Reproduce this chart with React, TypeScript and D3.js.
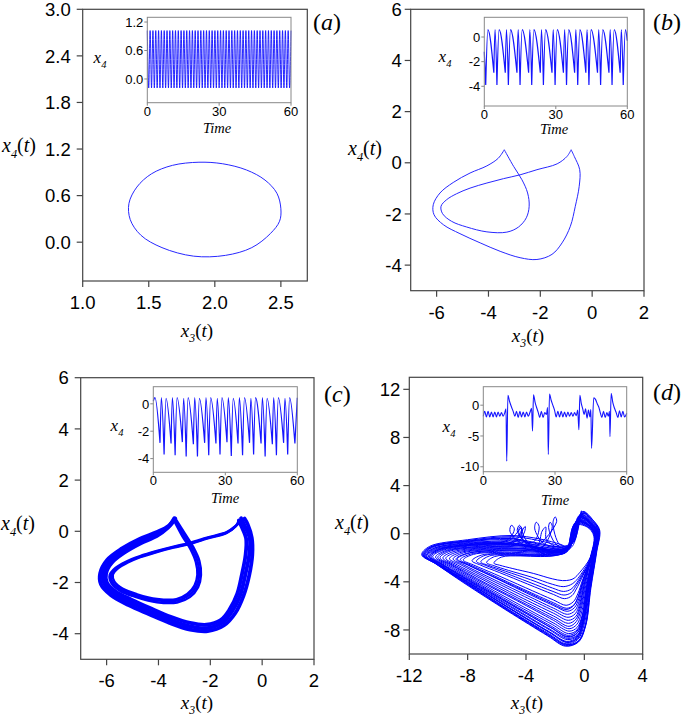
import * as d3 from "d3";

type Pt = [number, number];

// ---------- axes ----------
const aTicksX = [1.0, 1.5, 2.0, 2.5];
const aTicksY = [0.0, 0.6, 1.2, 1.8, 2.4, 3.0];
const bcTicksX = [-6, -4, -2, 0, 2];
const bcTicksY = [-4, -2, 0, 2, 4, 6];
const dTicksX = [-12, -8, -4, 0, 4];
const dTicksY = [-8, -4, 0, 4, 8, 12];
const timeTicks = [0, 30, 60];
const insetTicksA = [0.0, 0.6, 1.2];
const insetTicksBC = [-4, -2, 0];
const insetTicksD = [-10, -5, 0];

// ---------- (a) period-1 cycle ----------
const cycleA: Pt[] = [
  [2.5, 0.43], [2.47, 0.63], [2.38, 0.8], [2.24, 0.93], [2.06, 1.01], [1.88, 1.03],
  [1.68, 0.99], [1.52, 0.88], [1.41, 0.71], [1.35, 0.5], [1.36, 0.29], [1.44, 0.09],
  [1.6, -0.07], [1.84, -0.18], [2.08, -0.17], [2.28, -0.07], [2.42, 0.11], [2.49, 0.27],
];
// inset (a): successive maxima / minima of x4, half a period apart
const insetAValues = [
  1.02, -0.19, 1.02, -0.19, 1.02, -0.19, 1.02, -0.19, 1.02, -0.19, 1.02, -0.19, 1.02, -0.19, 1.02, -0.19,
  1.02, -0.19, 1.02, -0.19, 1.02, -0.19, 1.02, -0.19, 1.02, -0.19, 1.02, -0.19, 1.02, -0.19, 1.02, -0.19,
  1.02, -0.19, 1.02, -0.19, 1.02, -0.19, 1.02, -0.19, 1.02, -0.19, 1.02, -0.19, 1.02, -0.19, 1.02, -0.19,
  1.02, -0.19, 1.02, -0.19, 1.02, -0.19, 1.02, -0.19, 1.02, -0.19, 1.02, -0.19, 1.02, -0.19, 1.02, -0.19,
  1.02, -0.19, 1.02, -0.19, 1.02, -0.19, 1.02, -0.19, 1.02, -0.19, 1.02, -0.19, 1.02, -0.19, 1.02, -0.19,
  1.02, -0.19, 1.02, -0.19, 1.02, -0.19, 1.02, -0.19, 1.02, -0.19, 1.02, -0.19, 1.02, -0.19, 1.02, -0.19,
  1.02, -0.19, 1.02, -0.19, 1.02, -0.19, 1.02,
];

// ---------- (b) period-2 cycle, split at its two cusps ----------
const cycleBOuter: Pt[] = [
  [-3.39, 0.51], [-3.62, 0.18], [-4.06, -0.12], [-4.71, -0.4], [-5.36, -0.77], [-5.87, -1.18],
  [-6.13, -1.64], [-6.1, -2.03], [-5.74, -2.42], [-5.1, -2.77], [-4.32, -3.13], [-3.55, -3.46],
  [-2.78, -3.71], [-2.13, -3.78], [-1.55, -3.58], [-1.16, -3.13], [-0.84, -2.48], [-0.65, -1.7],
  [-0.5, -0.92], [-0.48, -0.27], [-0.69, 0.25], [-0.81, 0.51],
];
const cycleBInner: Pt[] = [
  [-0.81, 0.51], [-0.97, 0.25], [-1.35, -0.04], [-2.13, -0.27], [-2.78, -0.47], [-3.42, -0.62],
  [-4.06, -0.79], [-4.71, -0.99], [-5.23, -1.21], [-5.61, -1.44], [-5.83, -1.7], [-5.77, -1.99],
  [-5.42, -2.29], [-4.84, -2.51], [-4.06, -2.7], [-3.29, -2.71], [-2.84, -2.51], [-2.54, -2.15],
  [-2.43, -1.7], [-2.49, -1.18], [-2.71, -0.66], [-3.03, -0.14], [-3.39, 0.51],
];
// inset (b): cusp (minimum) times/values and the arch maxima between them
const insetBCuspT = [0, 0.6, 4.0, 5.3, 8.8, 10.1, 13.7, 15.0, 18.6, 19.9, 23.5, 24.8, 28.4, 29.7, 33.2, 34.5, 37.9, 39.2, 42.6, 43.9, 47.5, 48.8, 52.3, 53.6, 57.0, 58.3, 60];
const insetBCuspV = [-1.2, -3.9, -2.9, -3.9, -2.9, -3.9, -2.9, -3.9, -2.9, -3.9, -2.9, -3.9, -2.9, -3.9, -2.9, -3.9, -2.9, -3.9, -2.9, -3.9, -2.9, -3.9, -2.9, -3.9, -2.9, -3.9, -0.3];
const insetBPeakT = [null, 1.5, 4.5, 6.2, 9.3, 11.0, 14.2, 15.9, 19.1, 20.8, 24.0, 25.7, 28.9, 30.6, 33.7, 35.4, 38.4, 40.1, 43.1, 44.8, 48.0, 49.7, 52.8, 54.5, 57.5, 59.2];
const insetBPeakV = [null, 0.6, 0.6, 0.6, 0.6, 0.6, 0.6, 0.6, 0.6, 0.6, 0.6, 0.6, 0.6, 0.6, 0.6, 0.6, 0.6, 0.6, 0.6, 0.6, 0.6, 0.6, 0.6, 0.6, 0.6, 0.6];

// ---------- (c) quasi-periodic band: its two edges ----------
const bandCOuterA: Pt[] = [
  [-3.35, 0.5], [-3.6, 0.22], [-4.06, -0.03], [-4.73, -0.3], [-5.42, -0.68], [-5.98, -1.12],
  [-6.25, -1.64], [-6.22, -2.07], [-5.83, -2.5], [-5.16, -2.88], [-4.36, -3.24], [-3.57, -3.58],
  [-2.78, -3.84], [-2.1, -3.9], [-1.48, -3.68], [-1.04, -3.2], [-0.72, -2.52], [-0.5, -1.72],
  [-0.38, -0.92], [-0.4, -0.25], [-0.56, 0.28], [-0.68, 0.5],
];
const bandCOuterB: Pt[] = [
  [-3.4, 0.42], [-3.64, 0.13], [-4.07, -0.19], [-4.7, -0.48], [-5.32, -0.84], [-5.8, -1.23],
  [-6.02, -1.64], [-5.99, -2.0], [-5.65, -2.35], [-5.04, -2.67], [-4.28, -3.02], [-3.53, -3.34],
  [-2.78, -3.58], [-2.15, -3.65], [-1.6, -3.47], [-1.26, -3.06], [-0.96, -2.44], [-0.78, -1.68],
  [-0.64, -0.92], [-0.62, -0.28], [-0.8, 0.2], [-0.9, 0.42],
];
const bandCInnerA: Pt[] = [
  [-0.68, 0.5], [-0.95, 0.27], [-1.35, -0.02], [-2.13, -0.25], [-2.78, -0.45], [-3.42, -0.6],
  [-4.06, -0.77], [-4.71, -0.97], [-5.26, -1.19], [-5.66, -1.43], [-5.88, -1.7], [-5.82, -2.02],
  [-5.46, -2.34], [-4.86, -2.57], [-4.06, -2.77], [-3.28, -2.78], [-2.79, -2.57], [-2.47, -2.18],
  [-2.36, -1.7], [-2.42, -1.16], [-2.65, -0.63], [-2.98, -0.09], [-3.35, 0.5],
];
const bandCInnerB: Pt[] = [
  [-0.9, 0.42], [-1.02, 0.2], [-1.37, -0.06], [-2.13, -0.29], [-2.78, -0.49], [-3.42, -0.64],
  [-4.06, -0.81], [-4.7, -1.01], [-5.2, -1.23], [-5.56, -1.45], [-5.76, -1.7], [-5.7, -1.97],
  [-5.37, -2.25], [-4.82, -2.46], [-4.06, -2.64], [-3.31, -2.65], [-2.89, -2.45], [-2.61, -2.12],
  [-2.5, -1.7], [-2.56, -1.2], [-2.77, -0.69], [-3.08, -0.19], [-3.4, 0.42],
];
const insetCCuspT = [0, 2.8, 4.5, 7.4, 9.1, 12.1, 13.7, 16.7, 18.4, 21.4, 23.1, 26.1, 27.8, 30.7, 32.5, 35.3, 37.2, 40.1, 41.8, 44.9, 46.6, 49.6, 51.3, 54.3, 56.0, 59.0, 60];
const insetCCuspV = [0.2, -2.85, -3.7, -2.9, -3.75, -2.8, -3.85, -2.95, -3.85, -2.85, -3.75, -2.9, -3.7, -2.8, -3.8, -2.9, -3.75, -2.85, -3.7, -2.9, -3.85, -2.95, -3.75, -2.85, -3.7, -2.9, 0.45];
const insetCPeakT = [0.7, 3.35, 5.3, 7.95, 9.9, 12.65, 14.5, 17.25, 19.2, 21.95, 23.9, 26.65, 28.6, 31.25, 33.3, 35.85, 38.0, 40.65, 42.6, 45.45, 47.4, 50.15, 52.1, 54.85, 56.8, null];
const insetCPeakV = [0.45, 0.45, 0.4, 0.45, 0.45, 0.4, 0.45, 0.45, 0.4, 0.45, 0.45, 0.4, 0.45, 0.45, 0.4, 0.45, 0.45, 0.4, 0.45, 0.45, 0.4, 0.45, 0.45, 0.4, 0.45, null];

// ---------- (d) chaotic attractor, traced loop by loop ----------
const loopsD: Pt[][] = [
  [[-0.6, -0.4], [-0.1, 1.85], [0.6, 1.1], [1.05, 0.3], [0.85, -1.5], [0.45, -4.5], [0.1, -7.6], [-0.4, -9.0], [-1.3, -9.35], [-2.5, -8.5], [-5.3, -6.4], [-8.25, -4.1], [-10.2, -2.5], [-11.15, -1.75], [-10.6, -1.05], [-8.0, -0.5], [-5.0, -0.15], [-3.0, -0.45], [-1.6, -0.9]],
  [[-1.05, -1.15], [-0.3, 1.45], [0.45, 0.9], [0.85, 0.2], [0.4, -2.0], [-0.3, -3.2], [-0.7, -3.7], [-1.0, -3.85], [-1.5, -3.9], [-2.2, -3.75], [-3.5, -3.3], [-4.9, -2.9], [-5.8, -2.62], [-6.2, -2.45], [-5.7, -1.95], [-4.4, -1.85], [-3.0, -1.9], [-1.9, -1.8], [-1.1, -1.4]],
  [[-0.8, -0.6], [-0.2, 1.6], [0.5, 0.95], [0.95, 0.2], [0.75, -1.6], [0.35, -4.6], [0.0, -7.5], [-0.45, -8.8], [-1.25, -9.15], [-2.45, -8.3], [-5.2, -6.3], [-8.1, -4.05], [-10.05, -2.55], [-11.0, -1.8], [-10.4, -1.15], [-7.8, -0.65], [-5.2, -0.5], [-3.4, -0.8], [-1.9, -1.2]],
  [[-1.15, -1.25], [-0.55, 1.0], [0.28, 0.65], [0.72, -0.05], [0.5, -1.85], [0.05, -4.25], [-0.28, -6.2], [-0.58, -7.1], [-1.08, -7.45], [-2.1, -6.85], [-4.55, -5.35], [-7.15, -3.7], [-8.9, -2.6], [-9.7, -2.02], [-9.0, -1.5], [-6.5, -1.15], [-4.5, -1.1], [-2.9, -1.35], [-1.7, -1.5]],
  [[-0.9, -0.8], [-0.35, 1.3], [0.4, 0.8], [0.85, 0.1], [0.65, -1.7], [0.25, -4.6], [-0.1, -7.3], [-0.5, -8.6], [-1.2, -8.95], [-2.4, -8.15], [-5.1, -6.2], [-8.0, -4.05], [-9.9, -2.6], [-10.85, -1.85], [-10.2, -1.25], [-7.6, -0.8], [-5.4, -0.7], [-3.6, -1.0], [-2.1, -1.35]],
  [[-1.0, -1.05], [-0.35, 1.35], [0.4, 0.82], [0.8, 0.12], [0.5, -1.9], [0.0, -4.15], [-0.32, -5.8], [-0.62, -6.65], [-1.12, -6.95], [-2.1, -6.4], [-4.4, -5.05], [-6.85, -3.58], [-8.45, -2.6], [-9.25, -2.08], [-8.55, -1.58], [-6.2, -1.25], [-4.2, -1.25], [-2.7, -1.45], [-1.55, -1.45]],
  [[-1.0, -0.9], [-0.3, 1.45], [0.45, 0.85], [0.9, 0.15], [0.7, -1.6], [0.3, -4.5], [-0.05, -7.2], [-0.45, -8.4], [-1.15, -8.7], [-2.35, -7.95], [-5.0, -6.05], [-7.9, -3.95], [-9.8, -2.55], [-10.7, -1.85], [-10.0, -1.3], [-7.2, -0.8], [-5.2, -0.6], [-4.6, 0.1], [-4.35, 0.45], [-4.2, -0.5], [-3.2, -0.9], [-2.9, 0.2], [-2.65, 0.55], [-2.6, -0.5], [-1.8, -1.1]],
  [[-0.75, -0.65], [-0.1, 1.7], [0.6, 1.0], [1.02, 0.28], [0.82, -1.55], [0.42, -4.55], [0.08, -7.65], [-0.42, -8.95], [-1.28, -9.2], [-2.47, -8.38], [-5.22, -6.3], [-8.12, -4.05], [-10.07, -2.54], [-11.0, -1.78], [-10.45, -1.12], [-7.85, -0.62], [-5.1, -0.4], [-3.3, -0.75], [-1.8, -1.1]],
  [[-1.1, -1.0], [-0.5, 1.0], [0.3, 0.7], [0.75, 0.0], [0.55, -1.8], [0.15, -4.5], [-0.15, -7.0], [-0.5, -8.1], [-1.1, -8.45], [-2.25, -7.7], [-4.9, -5.9], [-7.7, -3.92], [-9.6, -2.6], [-10.5, -1.9], [-9.8, -1.35], [-7.0, -0.9], [-4.8, -0.9], [-3.2, -1.2], [-2.0, -1.5]],
  [[-1.15, -1.25], [-0.65, 0.8], [0.22, 0.58], [0.68, -0.15], [0.45, -1.95], [-0.08, -4.0], [-0.38, -5.4], [-0.68, -6.15], [-1.18, -6.45], [-2.1, -5.98], [-4.22, -4.78], [-6.5, -3.45], [-8.0, -2.6], [-8.8, -2.12], [-8.1, -1.65], [-5.8, -1.4], [-3.9, -1.4], [-2.5, -1.55], [-1.45, -1.5]],
  [[-1.0, -1.1], [-0.4, 1.2], [0.35, 0.75], [0.8, 0.05], [0.6, -1.7], [0.2, -4.4], [-0.15, -6.8], [-0.5, -7.8], [-1.05, -8.1], [-2.15, -7.4], [-4.75, -5.7], [-7.5, -3.85], [-9.3, -2.6], [-10.2, -1.95], [-9.5, -1.4], [-6.8, -1.0], [-4.9, -0.75], [-4.25, 0.3], [-4.4, 0.6], [-4.5, 0.1], [-3.9, -0.9], [-2.9, -1.1], [-2.2, 0.6], [-2.35, 0.95], [-2.45, 0.5], [-2.0, -0.8], [-1.4, -1.2]],
  [[-0.8, -0.8], [-0.25, 1.55], [0.5, 0.9], [0.9, 0.15], [0.7, -1.65], [0.3, -4.6], [-0.05, -7.4], [-0.5, -8.7], [-1.2, -9.0], [-2.4, -8.2], [-5.1, -6.2], [-8.0, -4.0], [-9.95, -2.56], [-10.9, -1.8], [-10.25, -1.2], [-7.6, -0.75], [-5.2, -0.6], [-3.5, -0.9], [-2.0, -1.25]],
  [[-1.1, -1.2], [-0.55, 1.0], [0.3, 0.68], [0.74, -0.02], [0.45, -1.98], [-0.18, -3.7], [-0.55, -4.6], [-0.85, -5.15], [-1.35, -5.4], [-2.12, -5.05], [-3.9, -4.18], [-5.8, -3.24], [-7.1, -2.62], [-7.7, -2.25], [-7.05, -1.78], [-5.15, -1.65], [-3.5, -1.7], [-2.25, -1.72], [-1.3, -1.52]],
  [[-0.9, -0.9], [-0.25, 1.5], [0.45, 0.9], [0.85, 0.2], [0.6, -1.8], [0.1, -4.3], [-0.25, -6.4], [-0.55, -7.3], [-1.05, -7.7], [-2.1, -7.05], [-4.6, -5.48], [-7.3, -3.76], [-9.05, -2.6], [-9.9, -2.0], [-9.2, -1.45], [-6.6, -1.1], [-4.6, -1.0], [-3.0, -1.3], [-1.8, -1.5]],
  [[-0.95, -0.85], [-0.3, 1.4], [0.45, 0.85], [0.88, 0.12], [0.68, -1.65], [0.28, -4.55], [-0.08, -7.25], [-0.48, -8.5], [-1.18, -8.8], [-2.38, -8.0], [-5.05, -6.1], [-7.95, -3.98], [-9.85, -2.58], [-10.8, -1.85], [-10.1, -1.28], [-7.4, -0.85], [-5.0, -0.7], [-4.3, 0.35], [-4.45, 0.7], [-4.6, 0.25], [-3.9, -0.85], [-2.4, -1.2]],
  [[-1.1, -1.2], [-0.6, 0.9], [0.25, 0.6], [0.7, -0.1], [0.45, -1.9], [0.0, -4.2], [-0.3, -6.0], [-0.6, -6.9], [-1.1, -7.2], [-2.1, -6.62], [-4.5, -5.2], [-7.0, -3.65], [-8.7, -2.6], [-9.5, -2.05], [-8.8, -1.55], [-6.4, -1.2], [-4.4, -1.2], [-2.8, -1.4], [-1.6, -1.45]],
  [[-1.0, -1.1], [-0.25, 1.6], [0.48, 1.0], [0.9, 0.28], [0.55, -1.95], [-0.22, -3.5], [-0.62, -4.25], [-0.92, -4.62], [-1.42, -4.8], [-2.18, -4.52], [-3.7, -3.82], [-5.4, -3.12], [-6.55, -2.64], [-7.1, -2.35], [-6.5, -1.85], [-4.9, -1.75], [-3.3, -1.8], [-2.1, -1.8], [-1.25, -1.55]],
  [[-1.05, -0.95], [-0.4, 1.25], [0.35, 0.75], [0.8, 0.05], [0.62, -1.75], [0.22, -4.5], [-0.12, -7.1], [-0.5, -8.25], [-1.12, -8.55], [-2.3, -7.8], [-4.95, -5.95], [-7.8, -3.95], [-9.7, -2.6], [-10.6, -1.88], [-9.9, -1.32], [-7.1, -0.9], [-4.9, -0.8], [-3.3, -1.1], [-2.0, -1.4]],
  [[-1.0, -1.0], [-0.35, 1.35], [0.4, 0.8], [0.8, 0.1], [0.5, -1.9], [-0.05, -4.1], [-0.35, -5.6], [-0.65, -6.4], [-1.15, -6.7], [-2.1, -6.2], [-4.3, -4.92], [-6.7, -3.52], [-8.25, -2.6], [-9.0, -2.1], [-8.3, -1.6], [-6.0, -1.3], [-4.0, -1.3], [-2.6, -1.5], [-1.5, -1.4]],
  [[-1.0, -1.15], [-0.2, 1.7], [0.5, 1.05], [0.95, 0.3], [0.7, -1.7], [0.3, -4.6], [-0.05, -7.4], [-0.45, -8.7], [-1.2, -9.05], [-2.4, -8.2], [-5.15, -6.22], [-8.05, -4.0], [-10.0, -2.55], [-10.95, -1.8], [-10.3, -1.2], [-7.7, -0.7], [-5.3, -0.55], [-4.8, 0.4], [-5.0, 0.7], [-5.1, 0.2], [-4.4, -0.75], [-3.3, -1.0], [-1.9, 1.0], [-2.0, 1.4], [-2.15, 0.9], [-1.7, -0.9], [-1.1, -1.1]],
  [[-1.1, -1.25], [-0.6, 0.95], [0.28, 0.66], [0.72, -0.05], [0.42, -2.0], [-0.25, -3.4], [-0.65, -4.0], [-0.95, -4.25], [-1.45, -4.4], [-2.2, -4.2], [-3.6, -3.62], [-5.2, -3.05], [-6.2, -2.66], [-6.7, -2.4], [-6.15, -1.9], [-4.7, -1.8], [-3.2, -1.85], [-2.0, -1.8], [-1.2, -1.5]],
  [[-1.1, -1.05], [-0.45, 1.1], [0.32, 0.72], [0.78, 0.02], [0.58, -1.75], [0.18, -4.45], [-0.15, -6.9], [-0.5, -8.0], [-1.08, -8.3], [-2.2, -7.55], [-4.85, -5.8], [-7.6, -3.9], [-9.45, -2.6], [-10.4, -1.92], [-9.7, -1.38], [-6.9, -0.95], [-4.7, -0.95], [-3.0, -1.25], [-1.9, -1.5]],
  [[-1.2, -1.3], [-0.7, 0.7], [0.2, 0.55], [0.65, -0.2], [0.4, -2.0], [-0.1, -3.9], [-0.4, -5.2], [-0.7, -5.9], [-1.2, -6.2], [-2.1, -5.75], [-4.15, -4.63], [-6.35, -3.4], [-7.8, -2.6], [-8.5, -2.15], [-7.8, -1.7], [-5.6, -1.45], [-3.8, -1.5], [-2.4, -1.6], [-1.4, -1.5]],
  [[-0.95, -1.0], [-0.3, 1.45], [0.42, 0.88], [0.84, 0.18], [0.62, -1.75], [0.15, -4.35], [-0.2, -6.6], [-0.52, -7.55], [-1.05, -7.9], [-2.12, -7.2], [-4.65, -5.55], [-7.4, -3.8], [-9.15, -2.6], [-10.05, -1.98], [-9.35, -1.42], [-6.7, -1.05], [-4.75, -0.95], [-4.1, 0.15], [-4.05, 0.6], [-4.25, 0.2], [-3.6, -1.05], [-2.3, -1.35]],
  [[-0.9, -0.9], [-0.15, 1.8], [0.55, 1.05], [1.0, 0.35], [0.8, -1.6], [0.4, -4.5], [0.05, -7.7], [-0.4, -8.9], [-1.25, -9.25], [-2.45, -8.4], [-5.25, -6.35], [-8.15, -4.08], [-10.1, -2.55], [-11.05, -1.75], [-10.5, -1.1], [-7.9, -0.6], [-5.1, -0.35], [-3.5, -0.7], [-3.1, 0.6], [-3.3, 0.95], [-3.4, 0.4], [-2.8, -0.8], [-1.9, -1.1]],
  [[-1.05, -1.1], [-0.35, 1.5], [0.42, 0.9], [0.86, 0.2], [0.52, -1.9], [-0.12, -3.85], [-0.45, -5.0], [-0.75, -5.65], [-1.25, -5.95], [-2.1, -5.52], [-4.05, -4.48], [-6.15, -3.35], [-7.6, -2.6], [-8.3, -2.18], [-7.6, -1.72], [-5.45, -1.55], [-3.7, -1.6], [-2.35, -1.65], [-1.35, -1.5]],
  [[-1.0, -1.0], [-0.3, 1.4], [0.4, 0.85], [0.85, 0.1], [0.65, -1.7], [0.25, -4.5], [-0.1, -7.1], [-0.5, -8.3], [-1.15, -8.6], [-2.3, -7.8], [-4.95, -5.95], [-7.8, -3.95], [-9.7, -2.6], [-10.6, -1.9], [-9.9, -1.3], [-7.1, -0.85], [-4.9, -0.85], [-3.1, -1.15], [-1.8, -1.4]],
  [[-1.1, -1.2], [-0.5, 1.1], [0.3, 0.7], [0.75, 0.0], [0.45, -2.0], [-0.2, -3.6], [-0.6, -4.4], [-0.9, -4.9], [-1.4, -5.1], [-2.15, -4.8], [-3.8, -4.02], [-5.6, -3.18], [-6.8, -2.62], [-7.4, -2.3], [-6.8, -1.8], [-5.0, -1.7], [-3.4, -1.75], [-2.2, -1.75], [-1.3, -1.55]],
  [[-1.1, -1.2], [-0.45, 1.15], [0.3, 0.7], [0.7, 0.0], [0.45, -1.95], [-0.1, -4.0], [-0.45, -5.3], [-0.75, -6.0], [-1.25, -6.3], [-2.15, -5.85], [-4.2, -4.7], [-6.45, -3.45], [-7.95, -2.6], [-8.7, -2.1], [-8.0, -1.65], [-5.8, -1.35], [-3.9, -1.4], [-2.5, -1.55], [-1.4, -1.45], [-0.8, -1.0], [-0.2, 1.9]],
  [[-0.7, -0.7], [-0.05, 1.75], [0.65, 1.05], [1.0, 0.25], [0.8, -1.55], [0.4, -4.55], [0.05, -7.7], [-0.45, -9.0], [-1.3, -9.3], [-2.5, -8.45], [-5.3, -6.35], [-8.2, -4.08], [-10.15, -2.52], [-11.1, -1.75], [-10.55, -1.1], [-7.9, -0.55], [-5.0, -0.25], [-3.2, -0.55], [-1.7, -1.0]],
];
const insetDTime = [0, 0.6, 1.3, 2.0, 2.7, 3.4, 4.1, 4.8, 5.5, 6.2, 6.9, 7.6, 8.3, 9.0, 9.5, 9.8, 10.3, 11.0, 11.8, 12.5, 13.2, 13.9, 14.6, 15.3, 16.0, 16.7, 17.4, 18.1, 18.8, 19.5, 20.2, 20.6, 21.0, 21.7, 22.4, 23.0, 23.6, 24.3, 25.0, 25.7, 26.4, 26.9, 27.2, 27.7, 28.4, 29.1, 29.8, 30.5, 31.2, 31.9, 32.6, 33.3, 34.0, 34.7, 35.4, 36.1, 36.8, 37.5, 38.2, 38.9, 39.5, 40.0, 40.4, 41.0, 41.6, 42.2, 42.8, 43.4, 44.0, 44.6, 45.0, 45.3, 46.2, 47.0, 47.7, 48.4, 49.0, 49.6, 50.3, 51.0, 51.7, 52.3, 52.8, 53.0, 53.5, 54.2, 54.9, 55.6, 56.3, 57.0, 57.7, 58.4, 59.1, 60];
const insetDValue = [-1.8, -1.0, -1.9, -1.0, -1.9, -1.1, -1.9, -1.1, -1.9, -1.1, -1.8, -1.2, -1.8, -1.2, -0.6, -9.1, 1.6, 0.6, -0.3, -1.0, -1.8, -1.0, -2.0, -1.0, -1.9, -1.1, -1.9, -1.1, -1.8, -1.2, -0.5, -4.2, 1.7, 0.4, -0.5, -1.2, -2.0, -1.0, -2.0, -1.2, -1.5, -0.4, -8.0, 1.8, 0.8, 0.0, -0.8, -1.9, -1.0, -1.9, -1.0, -1.9, -1.1, -1.9, -1.1, -1.8, -1.2, -1.8, -1.2, -1.7, -0.8, -4.0, 1.6, 0.3, -0.6, -1.5, -0.6, -2.1, -0.8, -1.9, -0.7, -7.0, 1.2, 0.9, 0.2, -0.4, -1.3, -2.0, -1.0, -2.0, -1.2, -1.8, -1.0, -5.1, 1.9, 0.4, -0.5, -1.2, -2.0, -0.9, -1.9, -1.0, -1.9, -1.3];

const SANS = "'Liberation Sans', Arial, sans-serif";
const SERIF = "'Liberation Serif', 'Times New Roman', serif";
const BLUE = "#0000ff";

type Scale = d3.ScaleLinear<number, number>;
type Box = { l: number; r: number; t: number; b: number };

const fmtInt = (v: number) => String(v);
const fmt1 = (v: number) => v.toFixed(1);

function Axes(props: {
  box: Box; xd: number[]; yd: number[]; xt: number[]; yt: number[];
  fx: (v: number) => string; fy: (v: number) => string; size: number; tick: number; yGap: number; xGap: number;
  color: string; width: number; bg?: boolean;
  children: (x: Scale, y: Scale) => any;
}) {
  const { box, xd, yd, xt, yt, fx, fy, size, tick, yGap, xGap, color, width } = props;
  const x = d3.scaleLinear().domain(xd).range([box.l, box.r]);
  const y = d3.scaleLinear().domain(yd).range([box.b, box.t]);
  return (
    <g>
      {props.bg && <rect x={box.l} y={box.t} width={box.r - box.l} height={box.b - box.t} fill="#fff" />}
      {props.children(x, y)}
      <rect x={box.l} y={box.t} width={box.r - box.l} height={box.b - box.t} fill="none" stroke={color} strokeWidth={width} />
      {xt.map((v) => (
        <g key={"x" + v}>
          <line x1={x(v)} x2={x(v)} y1={box.b} y2={box.b + tick} stroke={color} strokeWidth={width} />
          <text x={x(v)} y={box.b + xGap} textAnchor="middle" fontFamily={SANS} fontSize={size}>{fx(v)}</text>
        </g>
      ))}
      {yt.map((v) => (
        <g key={"y" + v}>
          <line x1={box.l - tick} x2={box.l} y1={y(v)} y2={y(v)} stroke={color} strokeWidth={width} />
          <text x={box.l - yGap} y={y(v)} dy="0.36em" textAnchor="end" fontFamily={SANS} fontSize={size}>{fy(v)}</text>
        </g>
      ))}
    </g>
  );
}

function VarLabel({ x, y, sub, size, withT }: { x: number; y: number; sub: string; size: number; withT: boolean }) {
  return (
    <text x={x} y={y} textAnchor="middle" fontFamily={SERIF} fontSize={size}>
      <tspan fontStyle="italic">x</tspan>
      <tspan fontStyle="italic" fontSize={size * 0.62} dy={size * 0.28}>{sub}</tspan>
      {withT && <tspan dy={-size * 0.28}>(</tspan>}
      {withT && <tspan fontStyle="italic">t</tspan>}
      {withT && <tspan>)</tspan>}
    </text>
  );
}

function PanelTag({ x, y, letter }: { x: number; y: number; letter: string }) {
  return (
    <text x={x} y={y} fontFamily={SERIF} fontSize={24}>
      (<tspan fontStyle="italic">{letter}</tspan>)
    </text>
  );
}

const openCurve = (x: Scale, y: Scale, pts: Pt[]) =>
  d3.line<Pt>().x((d) => x(d[0])).y((d) => y(d[1])).curve(d3.curveCatmullRom.alpha(0.5))(pts) || "";

// arches between cusps: each arch is drawn on its own so the cusps stay sharp
const archPath = (x: Scale, y: Scale, ct: number[], cv: number[], pt: (number | null)[], pv: (number | null)[]) => {
  const line = d3.line<Pt>().x((d) => x(d[0])).y((d) => y(d[1])).curve(d3.curveMonotoneX);
  let out = "";
  for (let i = 0; i < ct.length - 1; i++) {
    const seg: Pt[] = [[ct[i], cv[i]]];
    if (pt[i] != null) seg.push([pt[i] as number, pv[i] as number]);
    seg.push([ct[i + 1], cv[i + 1]]);
    out += line(seg);
  }
  return out;
};

const boxA: Box = { l: 82.7, r: 307.3, t: 9.3, b: 281 };
const boxB: Box = { l: 410.7, r: 644, t: 9.3, b: 290.7 };
const boxC: Box = { l: 80.7, r: 314, t: 377.7, b: 659.3 };
const boxD: Box = { l: 409.3, r: 642.7, t: 377.3, b: 654 };
const inA: Box = { l: 147.3, r: 291, t: 17.3, b: 102.7 };
const inB: Box = { l: 484.3, r: 627.3, t: 17.3, b: 106 };
const inC: Box = { l: 153.3, r: 297.3, t: 386.7, b: 472.3 };
const inD: Box = { l: 483.3, r: 626.7, t: 386.7, b: 471.7 };

const MAIN = { size: 18.5, tick: 6, xGap: 28, color: "#444", width: 1.2 };
const INSET = { size: 13, tick: 3, xGap: 13, yGap: 4, color: "#888", width: 1 };

export default function App() {
  const stepA = 60 / (insetAValues.length - 1);
  return (
    <svg width={685} height={718} style={{ position: "absolute", left: 0, top: 0, background: "#fff" }}>
      {/* (a) */}
      <Axes box={boxA} xd={[1.0, 2.7]} yd={[-0.5, 3.0]} xt={aTicksX} yt={aTicksY} fx={fmt1} fy={fmt1} yGap={12} {...MAIN}>
        {(x, y) => (
          <path d={d3.line<Pt>().x((d) => x(d[0])).y((d) => y(d[1])).curve(d3.curveCatmullRomClosed.alpha(0.5))(cycleA) || ""}
            fill="none" stroke="#2828ff" strokeWidth={1} />
        )}
      </Axes>
      <Axes box={inA} xd={[0, 60]} yd={[-0.5, 1.3]} xt={timeTicks} yt={insetTicksA} fx={fmtInt} fy={fmt1} bg {...INSET}>
        {(x, y) => (
          <path d={d3.line<number>().x((_, i) => x(i * stepA)).y((d) => y(d)).curve(d3.curveMonotoneX)(insetAValues) || ""}
            fill="none" stroke="#1010ff" strokeWidth={0.9} />
        )}
      </Axes>
      <VarLabel x={19} y={152} sub="4" size={20} withT />
      <VarLabel x={197} y={337} sub="3" size={19} withT />
      <VarLabel x={100} y={63} sub="4" size={17} withT={false} />
      <text x={217} y={133} textAnchor="middle" fontFamily={SERIF} fontStyle="italic" fontSize={14.5}>Time</text>
      <PanelTag x={313} y={30} letter="a" />

      {/* (b) */}
      <Axes box={boxB} xd={[-7, 2]} yd={[-5, 6]} xt={bcTicksX} yt={bcTicksY} fx={fmtInt} fy={fmtInt} yGap={9} {...MAIN}>
        {(x, y) => (
          <g fill="none" stroke="#2828ff" strokeWidth={1}>
            <path d={openCurve(x, y, cycleBOuter)} />
            <path d={openCurve(x, y, cycleBInner)} />
          </g>
        )}
      </Axes>
      <Axes box={inB} xd={[0, 60]} yd={[-5.6, 1.6]} xt={timeTicks} yt={insetTicksBC} fx={fmtInt} fy={fmtInt} bg {...INSET}>
        {(x, y) => (
          <path d={archPath(x, y, insetBCuspT, insetBCuspV, insetBPeakT, insetBPeakV)} fill="none" stroke="#1515ff" strokeWidth={1.2} />
        )}
      </Axes>
      <VarLabel x={365} y={155} sub="4" size={20} withT />
      <VarLabel x={528} y={342} sub="3" size={19} withT />
      <VarLabel x={445} y={62} sub="4" size={17} withT={false} />
      <text x={554} y={134} textAnchor="middle" fontFamily={SERIF} fontStyle="italic" fontSize={14.5}>Time</text>
      <PanelTag x={653} y={30} letter="b" />

      {/* (c) */}
      <Axes box={boxC} xd={[-7, 2]} yd={[-5, 6]} xt={bcTicksX} yt={bcTicksY} fx={fmtInt} fy={fmtInt} yGap={12} {...MAIN}>
        {(x, y) => (
          <g fill="none" stroke={BLUE} strokeLinejoin="round" strokeLinecap="round">
            <path d={openCurve(x, y, bandCOuterA)} strokeWidth={3.8} />
            <path d={openCurve(x, y, bandCOuterB)} strokeWidth={3.8} />
            {/* the middle of the band follows the orbit of (b) */}
            <path d={openCurve(x, y, cycleBOuter)} strokeWidth={3.8} />
            <path d={openCurve(x, y, bandCInnerA)} strokeWidth={2.4} />
            <path d={openCurve(x, y, bandCInnerB)} strokeWidth={2.4} />
            <path d={openCurve(x, y, cycleBInner)} strokeWidth={2.4} />
          </g>
        )}
      </Axes>
      <Axes box={inC} xd={[0, 60]} yd={[-5, 1.25]} xt={timeTicks} yt={insetTicksBC} fx={fmtInt} fy={fmtInt} bg {...INSET}>
        {(x, y) => (
          <path d={archPath(x, y, insetCCuspT, insetCCuspV, insetCPeakT, insetCPeakV)} fill="none" stroke="#1515ff" strokeWidth={1.2} />
        )}
      </Axes>
      <VarLabel x={18} y={530} sub="4" size={20} withT />
      <VarLabel x={197} y={709} sub="3" size={19} withT />
      <VarLabel x={117} y={431} sub="4" size={17} withT={false} />
      <text x={225} y={503} textAnchor="middle" fontFamily={SERIF} fontStyle="italic" fontSize={14.5}>Time</text>
      <PanelTag x={324} y={402} letter="c" />

      {/* (d) */}
      <Axes box={boxD} xd={[-12, 4]} yd={[-10, 13]} xt={dTicksX} yt={dTicksY} fx={fmtInt} fy={fmtInt} yGap={9} {...MAIN}>
        {(x, y) => (
          <path d={openCurve(x, y, loopsD.flat() as Pt[])} fill="none" stroke={BLUE} strokeWidth={1} />
        )}
      </Axes>
      <Axes box={inD} xd={[0, 60]} yd={[-10.8, 3]} xt={timeTicks} yt={insetTicksD} fx={fmtInt} fy={fmtInt} bg {...INSET}>
        {(x, y) => (
          <path d={d3.line<number>().x((d) => x(d)).y((_, i) => y(insetDValue[i])).curve(d3.curveMonotoneX)(insetDTime) || ""}
            fill="none" stroke="#1515ff" strokeWidth={1.1} />
        )}
      </Axes>
      <VarLabel x={352} y={529} sub="4" size={20} withT />
      <VarLabel x={527} y={709} sub="3" size={19} withT />
      <VarLabel x={449} y={432} sub="4" size={17} withT={false} />
      <text x={555} y={505} textAnchor="middle" fontFamily={SERIF} fontStyle="italic" fontSize={14.5}>Time</text>
      <PanelTag x={653} y={400} letter="d" />
    </svg>
  );
}
